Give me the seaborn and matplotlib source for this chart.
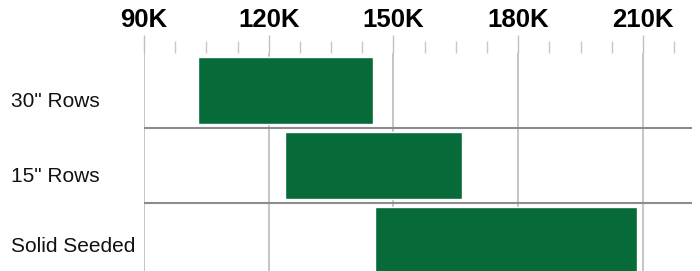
import matplotlib
matplotlib.use("Agg")
import matplotlib.pyplot as plt
import matplotlib.ticker as mticker
import matplotlib.transforms as mtransforms
import seaborn as sns
import pandas as pd

categories = ['30" Rows', '15" Rows', 'Solid Seeded']
range_start = [103, 124, 145.5]   # thousands
range_end = [145, 166.5, 208.5]   # thousands
tick_values = [90, 120, 150, 180, 210]
tick_labels = ["90K", "120K", "150K", "180K", "210K"]

df = pd.DataFrame({
    "category": categories,
    "start": range_start,
    "span": [e - s for s, e in zip(range_start, range_end)],
})

sns.set_theme(style="white")
plt.rcParams["font.family"] = ["Liberation Sans", "DejaVu Sans"]

fig = plt.figure(figsize=(7.0, 2.71), dpi=100)
ax = fig.add_axes([144 / 700, 0.0, 548 / 700, 1 - 53 / 271])

green = "#066B38"
sns.barplot(data=df, x="span", y="category", left=df["start"], orient="h",
            color=green, saturation=1, width=0.9, ax=ax)

ax.set_xlim(90, 221.8)
ax.set_ylim(2.407, -0.5)

# axis on top
ax.xaxis.tick_top()
ax.xaxis.set_label_position("top")
ax.set_xticks(tick_values)
ax.set_xticklabels(tick_labels, fontsize=18.5, fontweight="bold", color="black")
ax.xaxis.set_minor_locator(mticker.MultipleLocator(7.5))
ax.tick_params(axis="x", which="major", length=13, width=1, color="#bfbfbf",
               pad=2, top=True, bottom=False)
ax.tick_params(axis="x", which="minor", length=9, width=1, color="#c8c8c8",
               top=True, bottom=False)
ax.grid(True, axis="x", which="major", color="#c0c0c0", linewidth=1.3)
ax.set_axisbelow(True)

# category separators
for yb in [0.5, 1.5]:
    ax.axhline(yb, color="#8c8c8c", linewidth=1.5, zorder=1)

for s in ax.spines.values():
    s.set_visible(False)

ax.set_xlabel("")
ax.set_ylabel("")
ax.set_yticks([])

# category labels, left aligned
trans = mtransforms.blended_transform_factory(fig.transFigure, ax.transData)
offsets = [-8, -8, -4]
for i, (cat, off) in enumerate(zip(categories, offsets)):
    t = trans + mtransforms.ScaledTranslation(0, off / 72, fig.dpi_scale_trans)
    ax.text(11 / 700, i, cat, transform=t, ha="left", va="center",
            fontsize=15, color="#111111")

fig.savefig("out.png", dpi=100)
